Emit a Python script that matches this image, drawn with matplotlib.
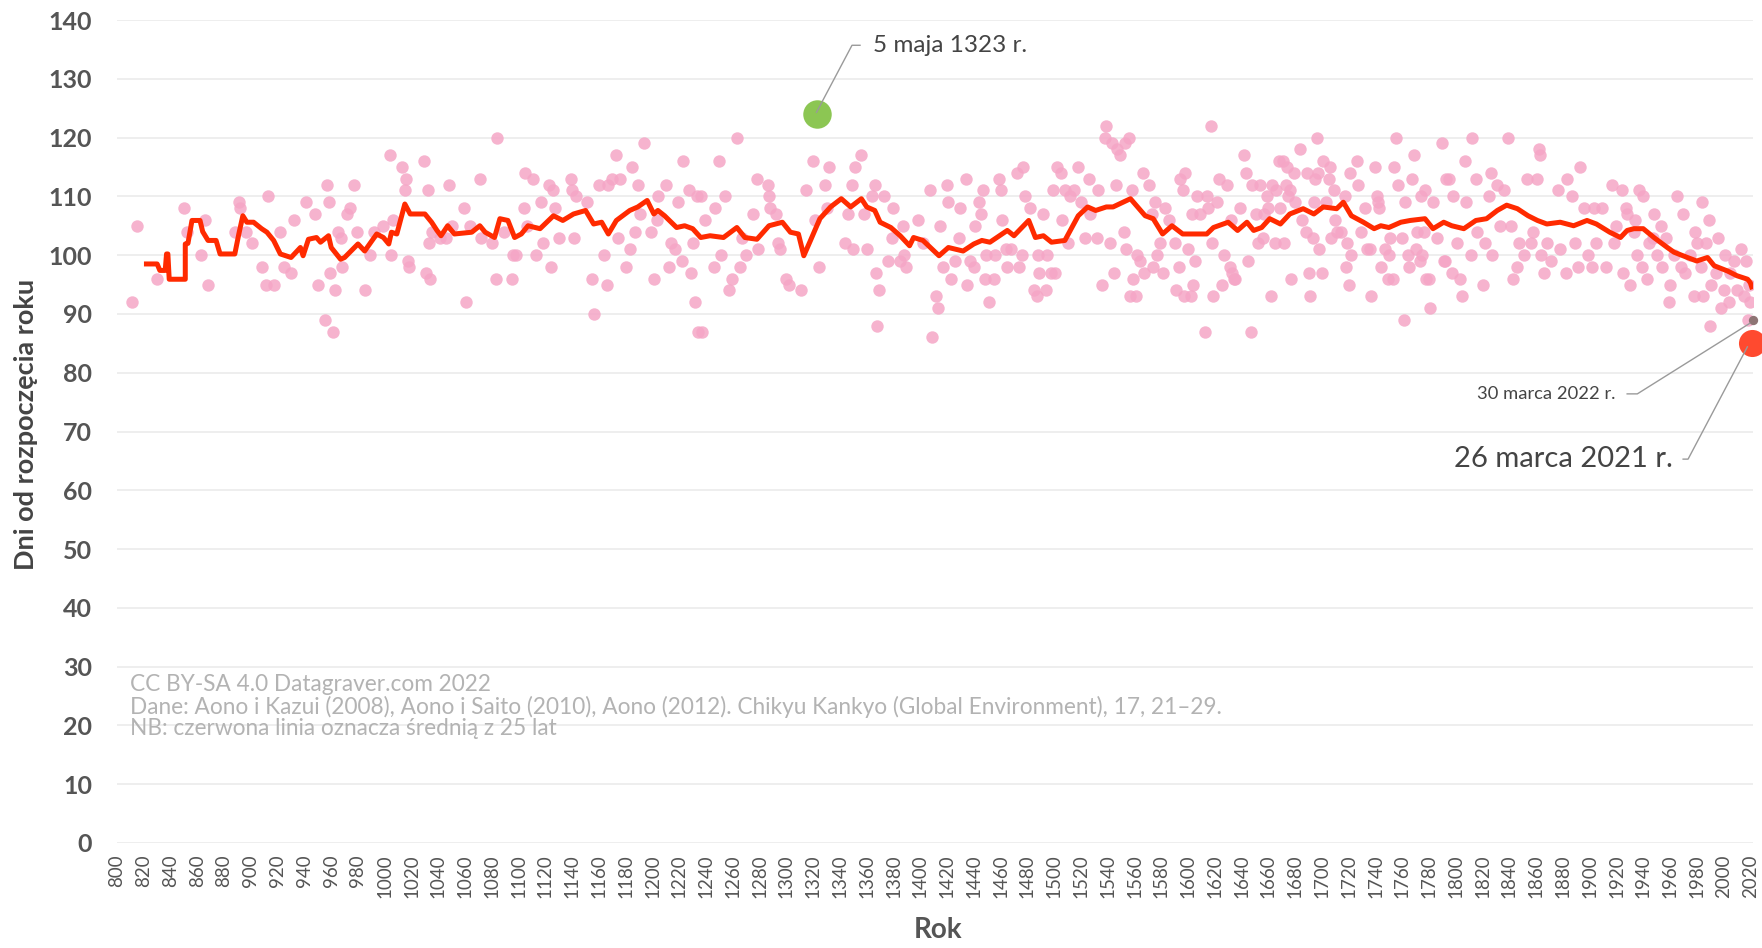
import matplotlib.pyplot as plt

plt.rcParams['font.family'] = ['Lato', 'DejaVu Sans']

# scatter: year of full bloom and day of year
years = [811, 815, 830, 850, 852, 863, 866, 868, 888, 891, 892, 896, 901, 908, 911, 913, 917, 922, 925, 930,
         932, 941, 948, 950, 955, 957, 958, 959, 961, 963, 965, 967, 968, 972, 974, 977, 979, 985, 989, 992,
         999, 1004, 1005, 1006, 1013, 1015, 1016, 1017, 1018,
         1029, 1031, 1032, 1033, 1034, 1035, 1041, 1046, 1048, 1050, 1059, 1061, 1064, 1071, 1072, 1080, 1083,
         1084, 1089, 1095, 1096, 1098, 1104, 1105, 1106, 1111, 1113, 1117, 1118, 1123, 1124, 1126, 1127, 1130,
         1139, 1140, 1141, 1143, 1151, 1155, 1156, 1160, 1164, 1166, 1167, 1170, 1173, 1174, 1176, 1180, 1183,
         1185, 1187, 1189, 1191, 1194, 1199, 1201, 1203, 1204, 1210, 1212, 1214, 1217, 1219, 1222, 1223, 1227,
         1229, 1230, 1232, 1233, 1234,
         1236, 1237, 1239, 1246, 1247, 1250, 1251, 1254, 1257, 1259, 1263, 1265, 1267, 1270, 1275, 1278, 1279,
         1286, 1287, 1288, 1292, 1294, 1295, 1300, 1302, 1311, 1315, 1320, 1321, 1324, 1329, 1330, 1332, 1344,
         1346, 1349, 1350, 1351, 1356, 1358, 1360, 1364, 1366, 1367, 1368, 1369, 1373, 1376, 1379, 1380, 1385,
         1387, 1388, 1389, 1398, 1402, 1407, 1409, 1412, 1413, 1415, 1417, 1420, 1421, 1423, 1426, 1429, 1430,
         1434, 1435, 1437, 1440, 1441, 1444, 1445, 1447, 1448, 1449, 1451,
         1455, 1456, 1459, 1460, 1461, 1464, 1465, 1468, 1472, 1474, 1476, 1477, 1478, 1482, 1485, 1487, 1488,
         1489, 1492, 1494, 1495, 1498, 1499, 1501, 1502, 1505, 1506, 1508, 1510, 1512, 1515, 1518, 1520, 1523,
         1526, 1527, 1532, 1533, 1536, 1538, 1539, 1542, 1543, 1545, 1546, 1547, 1549, 1552, 1553, 1554, 1556,
         1557, 1558, 1559, 1561, 1562, 1564, 1566, 1567, 1571, 1573, 1574, 1575, 1577, 1579, 1581, 1583, 1586,
         1590, 1591, 1593, 1594, 1596, 1597, 1598, 1600, 1602, 1603, 1604, 1605, 1607, 1609, 1613, 1614, 1615,
         1617, 1618, 1619, 1622, 1623, 1625, 1627, 1629, 1631, 1632, 1633, 1634, 1635, 1639, 1642, 1643, 1645,
         1647, 1648, 1651, 1652, 1654, 1656, 1657, 1659, 1660, 1662, 1663, 1665, 1666, 1668, 1669,
         1671, 1672, 1673, 1674, 1675, 1676, 1677, 1679, 1680, 1684, 1685, 1688, 1689, 1690, 1691, 1693, 1694,
         1695, 1696, 1697, 1698, 1700, 1701, 1703, 1705, 1706, 1707, 1709, 1710, 1711, 1714, 1717, 1718, 1719,
         1720, 1721, 1722, 1726, 1727, 1729, 1732, 1734, 1736, 1737, 1740, 1741, 1742, 1743, 1744, 1747, 1749,
         1750, 1751, 1753, 1754, 1755, 1757, 1760, 1761, 1762, 1764, 1765, 1767, 1769, 1770, 1771, 1773, 1774,
         1775, 1776, 1777, 1778, 1780, 1781, 1783, 1786, 1790, 1791, 1792, 1793, 1795, 1797, 1798, 1801, 1803,
         1805, 1807, 1808, 1811, 1812, 1815, 1816, 1820, 1822, 1825, 1826, 1827, 1831, 1833, 1836, 1839, 1841,
         1843, 1846, 1847, 1851, 1853, 1856, 1858, 1861, 1862, 1863, 1864, 1866, 1868, 1871, 1876, 1878, 1882,
         1883, 1887, 1889, 1891, 1893, 1896, 1899, 1902, 1903, 1905, 1909, 1912, 1917, 1918, 1920, 1924, 1925,
         1927, 1928, 1930, 1933, 1934, 1935, 1937, 1939, 1940, 1943, 1944, 1947, 1948, 1950, 1953, 1954, 1957,
         1959, 1960, 1963, 1965, 1968, 1970, 1971, 1975, 1978, 1979, 1980, 1983, 1984, 1985, 1987, 1989, 1990,
         1991, 1994, 1996, 1998, 2000, 2001, 2004, 2005, 2008, 2010, 2013, 2015, 2017, 2018, 2019, 2020]
days = [92, 105, 96, 108, 104, 100, 106, 95, 104, 109, 108, 104, 102, 98, 95, 110, 95, 104, 98, 97,
        106, 109, 107, 95, 89, 112, 109, 97, 87, 94, 104, 103, 98, 107, 108, 112, 104, 94, 100, 104,
        105, 117, 100, 106, 115, 111, 113, 99, 98,
        116, 97, 111, 102, 96, 104, 103, 103, 112, 105, 108, 92, 105, 113, 103, 102, 96,
        120, 104, 96, 100, 100, 108, 114, 105, 113, 100, 109, 102, 112, 98, 111, 108, 103,
        113, 111, 103, 110, 109, 96, 90, 112, 100, 95, 112, 113, 117, 103, 113, 98, 101,
        115, 104, 112, 107, 119, 104, 96, 106, 110, 112, 98, 102, 101, 109, 99, 116, 111,
        97, 102, 92, 110, 87,
        110, 87, 106, 98, 108, 116, 100, 110, 94, 96, 120, 98, 103, 100, 107, 113, 101,
        112, 110, 108, 107, 102, 101, 96, 95, 94, 111, 116, 106, 98, 112, 108, 115, 102,
        107, 112, 101, 115, 117, 107, 101, 110, 112, 97, 88, 94, 110, 99, 103, 108, 99,
        105, 100, 98, 106, 102, 111, 86, 93, 91, 105, 98, 112, 109, 96, 99, 103, 108,
        113, 95, 99, 98, 105, 109, 107, 111, 96, 100, 92,
        96, 100, 113, 111, 106, 101, 98, 101, 114, 98, 100, 115, 110, 108, 94, 93, 100,
        97, 107, 94, 100, 97, 111, 97, 115, 114, 106, 111, 102, 110, 111, 115, 109, 103,
        113, 107, 103, 111, 95, 120, 122, 102, 119, 97, 112, 118, 117, 104, 119, 101, 120,
        93, 111, 96, 93, 100, 99, 114, 97, 112, 107, 98, 109, 100, 102, 97, 108, 106,
        102, 94, 98, 113, 111, 93, 114, 101, 93, 107, 95, 99, 110, 107, 87, 110, 108,
        122, 102, 93, 109, 113, 95, 100, 112, 98, 106, 97, 96, 96, 108, 117, 114, 99,
        87, 112, 107, 102, 112, 103, 107, 110, 108, 93, 112, 102, 111, 116, 108,
        116, 102, 112, 115, 110, 111, 96, 114, 109, 118, 106, 104, 114, 97, 93, 103, 109,
        113, 120, 114, 101, 97, 116, 109, 113, 115, 103, 111, 106, 104, 104, 110, 98, 102,
        95, 114, 100, 116, 112, 104, 108, 101, 101, 93, 115, 110, 109, 108, 98, 101, 96,
        100, 103, 96, 115, 120, 112, 103, 89, 109, 100, 98, 113, 117, 101, 104, 99, 110,
        100, 104, 111, 96, 96, 91, 109, 103, 119, 99, 99, 113, 113, 97, 110, 102, 96,
        93, 116, 109, 100, 120, 113, 104, 95, 102, 110, 114, 100, 112, 105, 111, 120, 105,
        96, 98, 102, 100, 113, 102, 104, 113, 118, 117, 100, 97, 102, 99, 111, 101, 97,
        113, 110, 102, 98, 115, 108, 100, 98, 108, 102, 108, 98, 112, 102, 105, 111, 97,
        108, 107, 95, 104, 106, 100, 111, 98, 110, 96, 102, 103, 107, 100, 105, 98, 103,
        92, 95, 100, 110, 98, 107, 97, 100, 93, 104, 102, 98, 109, 93, 102, 106, 88,
        95, 97, 103, 91, 94, 100, 92, 97, 99, 94, 101, 93, 99, 89, 95, 92]

# 25-year running mean (red line)
ma_years = [822, 830, 832, 836, 837, 838, 839, 851, 851, 853, 856, 862, 864, 868, 874, 877, 888, 891, 894, 897,
            902, 908, 912, 917, 922, 930, 937, 939, 943, 949, 952, 958, 960, 967, 970, 980, 985, 994, 999, 1003,
            1005, 1009, 1011, 1015, 1019, 1030, 1035, 1039, 1042, 1047, 1052, 1065, 1071, 1075, 1082, 1086, 1092,
            1097, 1102, 1107, 1116, 1126, 1133, 1141, 1150, 1156, 1162, 1167, 1173, 1183, 1189, 1196, 1201, 1204,
            1209, 1218, 1224, 1230, 1236, 1243, 1253, 1263, 1269, 1278, 1287, 1297, 1303, 1309, 1313, 1318, 1325,
            1333, 1341, 1348, 1356, 1360, 1366, 1370, 1378, 1385, 1392, 1395, 1402, 1414, 1421, 1432, 1440, 1446,
            1452, 1465, 1470, 1481, 1486, 1492, 1498, 1508, 1518, 1525, 1531, 1539, 1544, 1557, 1568, 1574, 1581,
            1588, 1596, 1604, 1614, 1619, 1630, 1637, 1644, 1649, 1655, 1661, 1669, 1676, 1686, 1694, 1701, 1711,
            1716, 1722, 1731, 1739, 1744, 1750, 1759, 1766, 1777, 1783, 1791, 1797, 1806, 1815, 1823, 1831, 1838,
            1846, 1854, 1861, 1868, 1878, 1888, 1898, 1905, 1915, 1923, 1928, 1933, 1940, 1948, 1958, 1963, 1973,
            1980, 1988, 1993, 2003, 2010, 2018, 2020, 2021]
ma_days = [98.5, 98.5, 97.4, 97.4, 100.2, 100.2, 95.9, 95.9, 101.9, 102.0, 105.9, 105.9, 104.0, 102.5, 102.5,
           100.2, 100.2, 103.6, 106.7, 105.6, 105.6, 104.5, 103.9, 102.5, 100.2, 99.6, 101.3, 99.9, 102.7, 103.0,
           102.2, 103.3, 101.3, 99.3, 99.6, 101.9, 100.7, 103.6, 103.0, 101.9, 103.9, 103.6, 105.3, 108.7, 107.0,
           107.0, 105.6, 104.2, 103.3, 105.0, 103.6, 103.9, 105.0, 103.9, 103.0, 106.2, 105.9, 103.0, 103.6,
           105.0, 104.5, 106.7, 105.9, 107.0, 107.6, 105.3, 105.6, 103.6, 105.9, 107.6, 108.2, 109.3, 107.0,
           107.6, 106.7, 104.7, 105.0, 104.5, 103.0, 103.3, 103.0, 104.7, 103.0, 102.7, 105.0, 105.6, 103.9,
           103.6, 99.9, 102.5, 106.2, 108.2, 109.6, 108.2, 109.6, 108.2, 107.6, 105.6, 104.7, 103.3, 101.6,
           103.0, 102.5, 99.9, 101.3, 100.7, 101.9, 102.5, 102.2, 104.2, 103.3, 105.9, 103.0, 103.3, 102.2,
           102.5, 106.7, 108.2, 107.6, 108.2, 108.2, 109.6, 106.7, 106.2, 103.6, 105.0, 103.6, 103.6, 103.6,
           104.7, 105.6, 104.2, 105.6, 104.2, 104.7, 106.2, 105.3, 107.0, 107.9, 107.0, 108.2, 107.9, 109.0,
           106.7, 105.6, 104.5, 105.0, 104.7, 105.6, 105.9, 106.2, 104.5, 105.6, 105.0, 104.5, 105.9, 106.2,
           107.6, 108.5, 107.9, 106.7, 105.9, 105.3, 105.6, 105.0, 105.9, 105.3, 103.9, 103.0, 104.2, 104.5,
           104.5, 103.0, 101.3, 100.5, 99.6, 99.0, 99.6, 98.2, 97.3, 96.5, 95.9, 95.3, 94.6]

# highlighted years
hi_years = [1323, 2021, 2022]
hi_days = [124, 85, 89]
hi_labels = ['5 maja 1323 r.', '26 marca 2021 r.', '30 marca 2022 r.']

fig = plt.figure(figsize=(17.62, 9.48), dpi=100)
ax = fig.add_axes([117 / 1762, 105 / 948, 1636 / 1762, 823 / 948])

ax.scatter(years, days, s=80, color='#f5a6c6', alpha=0.85, linewidths=0, zorder=2)
ax.plot(ma_years, ma_days, color='#ff2a00', lw=3.6, zorder=3, solid_joinstyle='round')

ax.scatter(hi_years[0], hi_days[0], s=420, color='#8cc653', linewidths=0, zorder=4, clip_on=False)
ax.scatter(hi_years[1], hi_days[1], s=380, color='#ff4a2f', linewidths=0, zorder=4, clip_on=False)
ax.scatter(hi_years[2], hi_days[2], s=45, color='#8e7474', linewidths=0, zorder=4, clip_on=False)

# labels + leader lines
lead = dict(color='#9a9a9a', lw=1, zorder=5, clip_on=False)
ax.text(1364.7, 135.6, hi_labels[0], fontsize=17.5, color='#444444', va='center', ha='left')
ax.plot([1355, 1349, 1322.5], [135.7, 135.7, 124.3], **lead)

ax.text(1919, 76.4, hi_labels[2], fontsize=13.2, color='#444444', va='center', ha='right')
ax.plot([1928, 1935.6, 2019.6], [76.4, 76.4, 88.4], **lead)

ax.text(1962.3, 65.3, hi_labels[1], fontsize=21, color='#444444', va='center', ha='right')
ax.plot([1969.8, 1973.5, 2017.8], [65.3, 65.3, 84.4], **lead)

credits = ['CC BY-SA 4.0 Datagraver.com 2022',
           'Dane: Aono i Kazui (2008), Aono i Saito (2010), Aono (2012). Chikyu Kankyo (Global Environment), 17, 21\u201329.',
           'NB: czerwona linia oznacza \u015bredni\u0105 z 25 lat']
for i, line in enumerate(credits):
    ax.text(810, 27 - 3.8 * i, line, fontsize=16.3, color='#b3b3b3', va='center', ha='left')

ax.set_xlim(800, 2022)
ax.set_ylim(0, 140)
ax.set_xticks(range(800, 2021, 20))
ax.set_yticks(range(0, 141, 10))
ax.tick_params(axis='x', length=0, pad=8, labelsize=13.5, labelcolor='#555555', labelrotation=90)
ax.tick_params(axis='y', length=0, pad=18, labelsize=18, labelcolor='#555555')
for lab in ax.get_yticklabels():
    lab.set_fontweight('bold')

ax.grid(axis='y', color='#ebebeb', lw=1.2)
ax.set_axisbelow(True)
for s in ax.spines.values():
    s.set_visible(False)

ax.set_xlabel('Rok', fontsize=20, fontweight='bold', color='#555555')
ax.xaxis.set_label_coords(0.502, -0.090)
ax.set_ylabel('Dni od rozpocz\u0119cia roku', fontsize=19.5, fontweight='bold', color='#444444')
ax.yaxis.set_label_coords(-0.0485, 0.508)

fig.savefig('out.png', dpi=100)
